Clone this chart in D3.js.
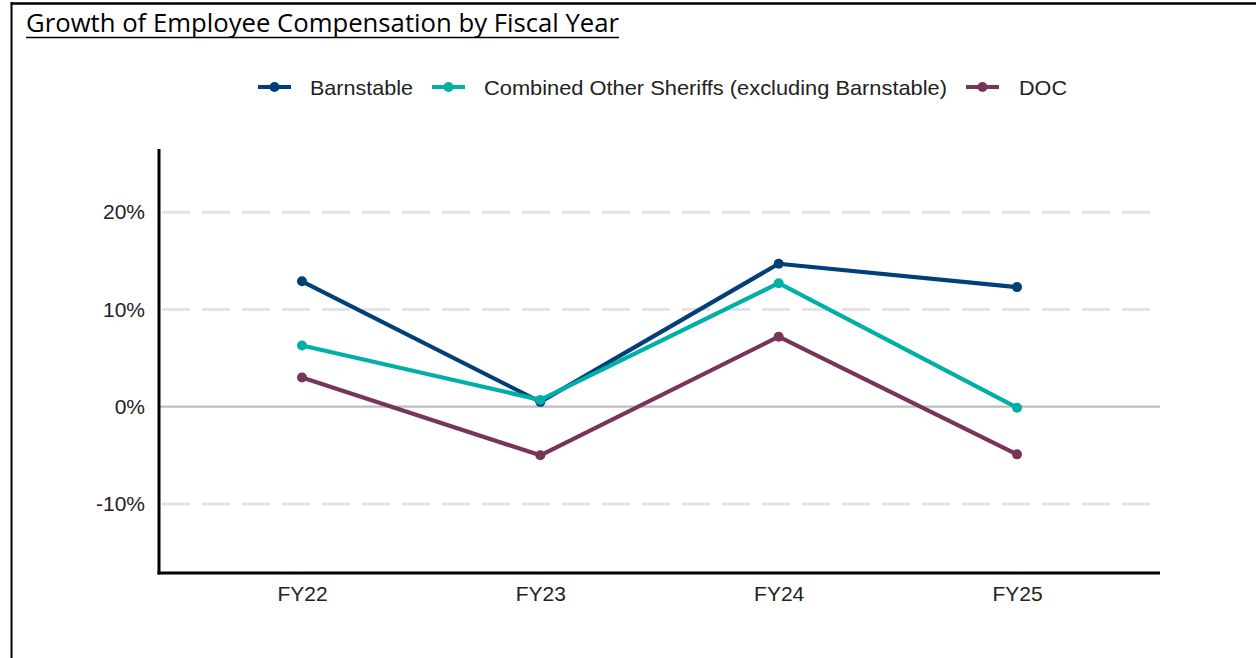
<!DOCTYPE html>
<html><head><meta charset="utf-8">
<script src="https://cdn.jsdelivr.net/npm/d3@7"></script>
<style>body{margin:0;background:#fff}svg{display:block}</style>
</head><body>
<svg id="c" width="1256" height="658"></svg>
<script>
const categories = ["FY22","FY23","FY24","FY25"];
const seriesNames = ["Barnstable","Combined Other Sheriffs (excluding Barnstable)","DOC"];
const barnstable = [12.9, 0.5, 14.7, 12.3];
const combinedOther = [6.3, 0.7, 12.7, -0.1];
const doc = [3.0, -5.0, 7.2, -4.9];
const yTicks = [-10, 0, 10, 20];
const colors = ["#003f78", "#00b0a6", "#773659"];
const seriesValues = [barnstable, combinedOther, doc];

const svg = d3.select("#c");
// frame
svg.append("line").attr("x1",11).attr("x2",1256).attr("y1",3.5).attr("y2",3.5).attr("stroke","#000").attr("stroke-width",2.5);
svg.append("line").attr("x1",11.5).attr("x2",11.5).attr("y1",2).attr("y2",658).attr("stroke","#000").attr("stroke-width",2);

// title
svg.append("text").attr("x",26).attr("y",32).attr("font-family","Open Sans, sans-serif").attr("font-size",25)
  .attr("textLength",593).attr("lengthAdjust","spacingAndGlyphs").attr("fill","#000")
  .text("Growth of Employee Compensation by Fiscal Year");
svg.append("line").attr("x1",26).attr("x2",619).attr("y1",37.5).attr("y2",37.5).attr("stroke","#000").attr("stroke-width",1.5);

const x = d3.scalePoint().domain(categories).range([159,1160]).padding(0.6);
const y = d3.scaleLinear().domain([-17.1, 26.5]).range([573,149]);

// gridlines
const g = svg.append("g");
g.selectAll("line.grid").data(yTicks.filter(d=>d!==0)).join("line")
  .attr("x1",159).attr("x2",1160).attr("y1",d=>y(d)).attr("y2",d=>y(d))
  .attr("stroke","#e3e3e3").attr("stroke-width",3).attr("stroke-dasharray","28,12").attr("stroke-dashoffset",-3);
g.append("line").attr("x1",159).attr("x2",1160).attr("y1",y(0)).attr("y2",y(0))
  .attr("stroke","#bdbdbd").attr("stroke-width",2.2);

const fontFam = "Liberation Sans, Arial, sans-serif";
// y axis labels
const yAxis = d3.axisLeft(y).tickValues(yTicks).tickFormat(d=>d+"%").tickSize(0).tickPadding(14);
const ya = svg.append("g").attr("transform","translate(159,0)").call(yAxis);
ya.select(".domain").remove();
ya.selectAll("text").attr("font-family",fontFam).attr("font-size",21).attr("fill","#222");

const xAxis = d3.axisBottom(x).tickSize(0).tickPadding(13);
const xa = svg.append("g").attr("transform","translate(0,573)").call(xAxis);
xa.select(".domain").remove();
xa.selectAll("text").attr("font-family",fontFam).attr("font-size",21).attr("fill","#222");

// axis lines
svg.append("line").attr("x1",159).attr("x2",159).attr("y1",149).attr("y2",574.5).attr("stroke","#000").attr("stroke-width",3);
svg.append("line").attr("x1",157.5).attr("x2",1160).attr("y1",573).attr("y2",573).attr("stroke","#000").attr("stroke-width",3);

// lines
const line = d3.line().x((d,i)=>x(categories[i])).y(d=>y(d));
seriesValues.forEach((vals,si)=>{
  svg.append("path").datum(vals).attr("d",line).attr("fill","none").attr("stroke",colors[si]).attr("stroke-width",4.2).attr("stroke-linejoin","round");
  svg.selectAll(null).data(vals).join("circle").attr("cx",(d,i)=>x(categories[i])).attr("cy",d=>y(d)).attr("r",5).attr("fill",colors[si]);
});

// legend
const legendItems = [
  {sx:258, tx:310, w:103},
  {sx:432, tx:484, w:463},
  {sx:966, tx:1019, w:48}
];
const ly = 87;
legendItems.forEach((it,i)=>{
  svg.append("line").attr("x1",it.sx).attr("x2",it.sx+33).attr("y1",ly).attr("y2",ly).attr("stroke",colors[i]).attr("stroke-width",4.2);
  svg.append("circle").attr("cx",it.sx+16.5).attr("cy",ly).attr("r",5).attr("fill",colors[i]);
  svg.append("text").attr("x",it.tx).attr("y",ly+7.5).attr("font-family",fontFam).attr("font-size",21)
    .attr("textLength",it.w).attr("lengthAdjust","spacingAndGlyphs").attr("fill","#222").text(seriesNames[i]);
});
</script>
</body></html>
